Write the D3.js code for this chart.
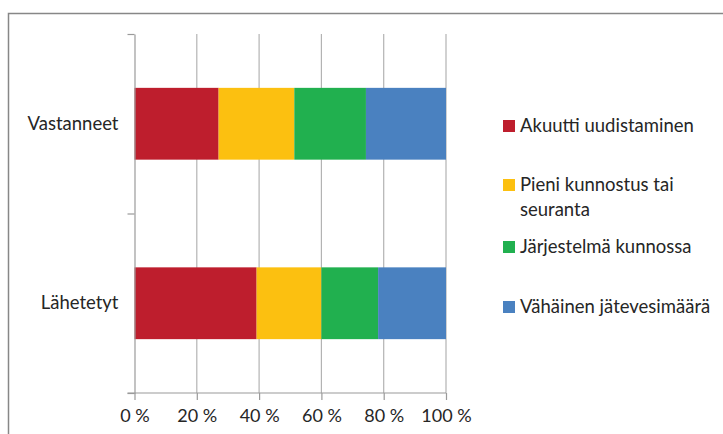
<!DOCTYPE html>
<html><head><meta charset="utf-8">
<script src="https://cdn.jsdelivr.net/npm/d3@7"></script>
<style>
html,body{margin:0;padding:0;background:#fff;}
svg{display:block;font-family:Lato,"Open Sans",sans-serif;}
</style></head>
<body>
<svg id="c" width="723" height="434"></svg>
<script>
const categories = ["Vastanneet", "Lähetetyt"];
const seriesNames = ["Akuutti uudistaminen", "Pieni kunnostus tai seuranta", "Järjestelmä kunnossa", "Vähäinen jätevesimäärä"];
const seriesColors = ["#BE1E2D", "#FCC010", "#21B04F", "#4A81C0"];
const akuutti = [27.0, 39.2];
const pieni = [24.3, 20.8];
const jarjestelma = [23.0, 18.2];
const vahainen = [25.7, 21.8];
const xTicks = [0, 20, 40, 60, 80, 100];
const legendLines = [["Akuutti uudistaminen"], ["Pieni kunnostus tai", "seuranta"], ["Järjestelmä kunnossa"], ["Vähäinen jätevesimäärä"]];

const rows = categories.map((c, i) => ({
  cat: c,
  [seriesNames[0]]: akuutti[i],
  [seriesNames[1]]: pieni[i],
  [seriesNames[2]]: jarjestelma[i],
  [seriesNames[3]]: vahainen[i]
}));

const svg = d3.select("#c");
const fontSize = 18.5;
const tickFontSize = 18;
const textColor = "#262626";

// outer chart border
svg.append("rect").attr("x", 8.5).attr("y", 13.5).attr("width", 730).attr("height", 440)
  .attr("fill", "none").attr("stroke", "#878787").attr("stroke-width", 1.5);

const pLeft = 134.5, pRight = 446, pTop = 34, pBottom = 393;
const x = d3.scaleLinear().domain([0, 100]).range([pLeft, pRight]);
const y = d3.scaleBand().domain(categories).range([pTop, pBottom]).paddingInner(0.6).paddingOuter(0.3);

// gridlines
svg.append("g").selectAll("line").data(xTicks.slice(1)).join("line")
  .attr("x1", d => x(d)).attr("x2", d => x(d)).attr("y1", pTop).attr("y2", pBottom)
  .attr("stroke", "#b3b3b3").attr("stroke-width", 1.2);

// stacked bars
const stack = d3.stack().keys(seriesNames);
const stacked = stack(rows);
svg.append("g").selectAll("g").data(stacked).join("g")
  .attr("fill", (d, i) => seriesColors[i])
  .selectAll("rect").data(d => d).join("rect")
  .attr("x", d => x(d[0])).attr("width", d => x(d[1]) - x(d[0]))
  .attr("y", d => y(d.data.cat)).attr("height", y.bandwidth());

// x axis
const xAxis = d3.axisBottom(x).tickValues(xTicks).tickSize(7).tickSizeOuter(0).tickFormat(d => d + " %");
const gx = svg.append("g").attr("transform", `translate(0,${pBottom})`).call(xAxis);
gx.select(".domain").remove();
gx.append("line").attr("x1", pLeft - 7).attr("x2", pRight).attr("y1", 0).attr("y2", 0).attr("stroke", "#9a9a9a").attr("stroke-width", 1.2);
gx.selectAll(".tick line").attr("stroke", "#9a9a9a").attr("stroke-width", 1.2);
gx.selectAll(".tick text").attr("font-size", tickFontSize).attr("fill", textColor).attr("dy", "1.05em").attr("font-family", "Lato");

// y axis boundary ticks
const yb = d3.scaleLinear().domain([0, categories.length]).range([pTop, pBottom]);
const gy = svg.append("g").attr("transform", `translate(${pLeft},0)`)
  .call(d3.axisLeft(yb).tickValues(d3.range(categories.length + 1)).tickSize(7).tickSizeOuter(0).tickFormat(""));
gy.select(".domain").attr("stroke", "#9a9a9a").attr("stroke-width", 1.2);
gy.selectAll(".tick line").attr("stroke", "#9a9a9a").attr("stroke-width", 1.2);

// category labels
const gl = svg.append("g").attr("transform", `translate(${pLeft},0)`)
  .call(d3.axisLeft(y).tickSize(0).tickPadding(16));
gl.select(".domain").remove();
gl.selectAll(".tick text").attr("font-size", fontSize).attr("fill", textColor).attr("font-family", "Lato");

// legend
const legendY = [126, 185, 247, 307];
const lg = svg.append("g").selectAll("g").data(seriesNames).join("g")
  .attr("transform", (d, i) => `translate(503,${legendY[i]})`);
lg.append("rect").attr("x", 0).attr("y", -6).attr("width", 12).attr("height", 12)
  .attr("fill", (d, i) => seriesColors[i]);
lg.append("text").attr("x", 17).attr("font-size", fontSize).attr("fill", textColor)
  .selectAll("tspan").data((d, i) => legendLines[i]).join("tspan")
  .attr("x", 17).attr("dy", (d, j) => j === 0 ? "0.35em" : "1.3em").text(d => d);
</script>
</body></html>
